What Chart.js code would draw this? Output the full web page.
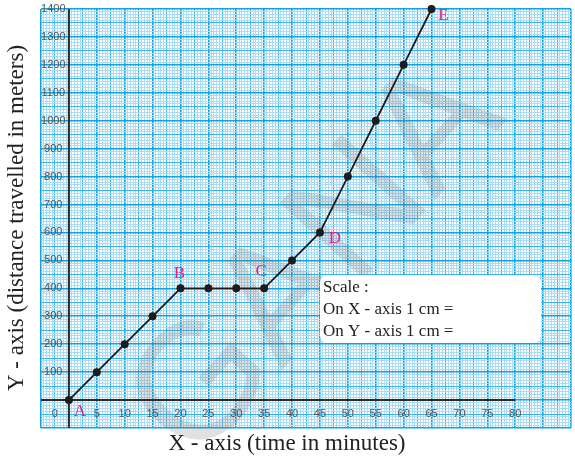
<!DOCTYPE html>
<html>
<head>
<meta charset="utf-8">
<script src="https://cdn.jsdelivr.net/npm/chart.js@4"></script>
<style>
  html, body { margin: 0; padding: 0; background: #fff; }
  #wrap { width: 575px; height: 460px; position: relative; }
</style>
</head>
<body>
<div id="wrap"><canvas id="graph"></canvas></div>
<script>
// time (minutes) and distance (meters)
const times = [0, 5, 10, 15, 20, 25, 30, 35, 40, 45, 50, 55, 60, 65]
const distances = [0, 100, 200, 300, 400, 400, 400, 400, 500, 600, 800, 1000, 1200, 1400]
const pointNames = ["A", "", "", "", "B", "", "", "C", "", "D", "", "", "", "E"]

const xTickLabels = [5, 10, 15, 20, 25, 30, 35, 40, 45, 50, 55, 60, 65, 70, 75, 80]
const yTickLabels = [100, 200, 300, 400, 500, 600, 700, 800, 900, 1000, 1100, 1200, 1300, 1400]

const scaleLines = ["Scale :", "On X - axis 1 cm =", "On Y - axis 1 cm ="]

// offsets of the letters next to the named points
const nameOffsets = { A: [11, 11], B: [-1, -15], C: [-3, -17], D: [15, 6], E: [12, 7] }

const points = times.map(function (t, i) { return { x: t, y: distances[i] } })

const MAJOR = "#0fa3e0"
const MEDIUM = "#3db5e8"
const FINE = "#acdcf3"

function gridStyle(kind) {
    return {
        color: function (ctx) { return kind(ctx.tick.value) === 2 ? MAJOR : kind(ctx.tick.value) === 1 ? MEDIUM : FINE },
        lineWidth: function (ctx) { return kind(ctx.tick.value) === 2 ? 1.6 : 1 },
        drawTicks: false
    }
}

// 2 = cm line, 1 = half cm, 0 = mm
function xKind(v) {
    const h = Math.round(v * 2)
    if (h % 10 === 0) return 2
    if (h % 5 === 0) return 1
    return 0
}
function yKind(v) {
    const h = Math.round(v / 10)
    if (h % 10 === 0) return 2
    if (h % 5 === 0) return 1
    return 0
}

const paperPlugin = {
    id: "paper",
    beforeDatasetsDraw: function (chart) {
        const c = chart.ctx
        const xs = chart.scales.x
        const ys = chart.scales.y
        const area = chart.chartArea

        // faint diagonal stamp across the sheet
        c.save()
        c.translate(318, 262)
        c.rotate(-48 * Math.PI / 180)
        c.font = "165px 'Liberation Sans', Arial, sans-serif"
        c.fillStyle = "rgba(120,120,120,0.22)"
        c.textAlign = "center"
        c.textBaseline = "middle"
        c.fillText("GANA", 0, 0)
        c.restore()

        // axes
        c.save()
        c.strokeStyle = "#2b2b2b"
        c.lineWidth = 2
        c.beginPath()
        c.moveTo(xs.getPixelForValue(0), area.top)
        c.lineTo(xs.getPixelForValue(0), area.bottom)
        c.moveTo(area.left, ys.getPixelForValue(0))
        c.lineTo(xs.getPixelForValue(80), ys.getPixelForValue(0))
        c.stroke()

        // tick numbers
        c.font = "11px 'Liberation Sans', Arial, sans-serif"
        c.fillStyle = "#555"
        c.textAlign = "center"
        c.textBaseline = "middle"
        const labelY = ys.getPixelForValue(0) + 14
        c.fillText("0", xs.getPixelForValue(0) - 14, labelY)
        xTickLabels.forEach(function (v) {
            c.fillText(String(v), xs.getPixelForValue(v), labelY)
        })
        yTickLabels.forEach(function (v) {
            c.fillText(String(v), xs.getPixelForValue(-2.8), ys.getPixelForValue(v))
        })

        // scale box
        c.fillStyle = "#fff"
        c.beginPath()
        c.roundRect(320, 275, 221, 68, 8)
        c.fill()
        c.font = "17px 'Liberation Serif', 'Times New Roman', serif"
        c.fillStyle = "#222"
        c.textAlign = "left"
        scaleLines.forEach(function (s, i) {
            c.fillText(s, 323, 288 + i * 22)
        })

        // axis titles
        c.font = "23px 'Liberation Serif', 'Times New Roman', serif"
        c.textAlign = "center"
        c.fillText("X - axis (time in minutes)", 287, 444)
        c.translate(17, 218)
        c.rotate(-Math.PI / 2)
        c.fillText("Y - axis (distance travelled in meters)", 0, 0)
        c.restore()
    },
    afterDatasetsDraw: function (chart) {
        const c = chart.ctx
        const xs = chart.scales.x
        const ys = chart.scales.y
        c.save()
        c.font = "17px 'Liberation Serif', 'Times New Roman', serif"
        c.fillStyle = "#e8198b"
        c.textAlign = "center"
        c.textBaseline = "middle"
        pointNames.forEach(function (name, i) {
            if (!name) return
            const off = nameOffsets[name]
            c.fillText(name, xs.getPixelForValue(times[i]) + off[0], ys.getPixelForValue(distances[i]) + off[1])
        })
        c.restore()
    }
}

new Chart(document.getElementById("graph"), {
    type: "line",
    data: {
        datasets: [{
            label: "distance",
            data: points,
            borderColor: "#1c1c1c",
            borderWidth: 1.8,
            backgroundColor: "#1c1c1c",
            pointRadius: 4,
            pointBorderWidth: 0,
            tension: 0,
            clip: false
        }]
    },
    options: {
        responsive: true,
        maintainAspectRatio: false,
        animation: false,
        layout: { padding: { left: 41, right: 2, top: 9, bottom: 32 } },
        plugins: { legend: { display: false }, tooltip: { enabled: false } },
        scales: {
            x: {
                type: "linear",
                min: -5,
                max: 90,
                ticks: { display: false, stepSize: 0.5 },
                grid: gridStyle(xKind),
                border: { display: false }
            },
            y: {
                type: "linear",
                min: -100,
                max: 1400,
                ticks: { display: false, stepSize: 10 },
                grid: gridStyle(yKind),
                border: { display: false }
            }
        }
    },
    plugins: [paperPlugin]
})
</script>
</body>
</html>
